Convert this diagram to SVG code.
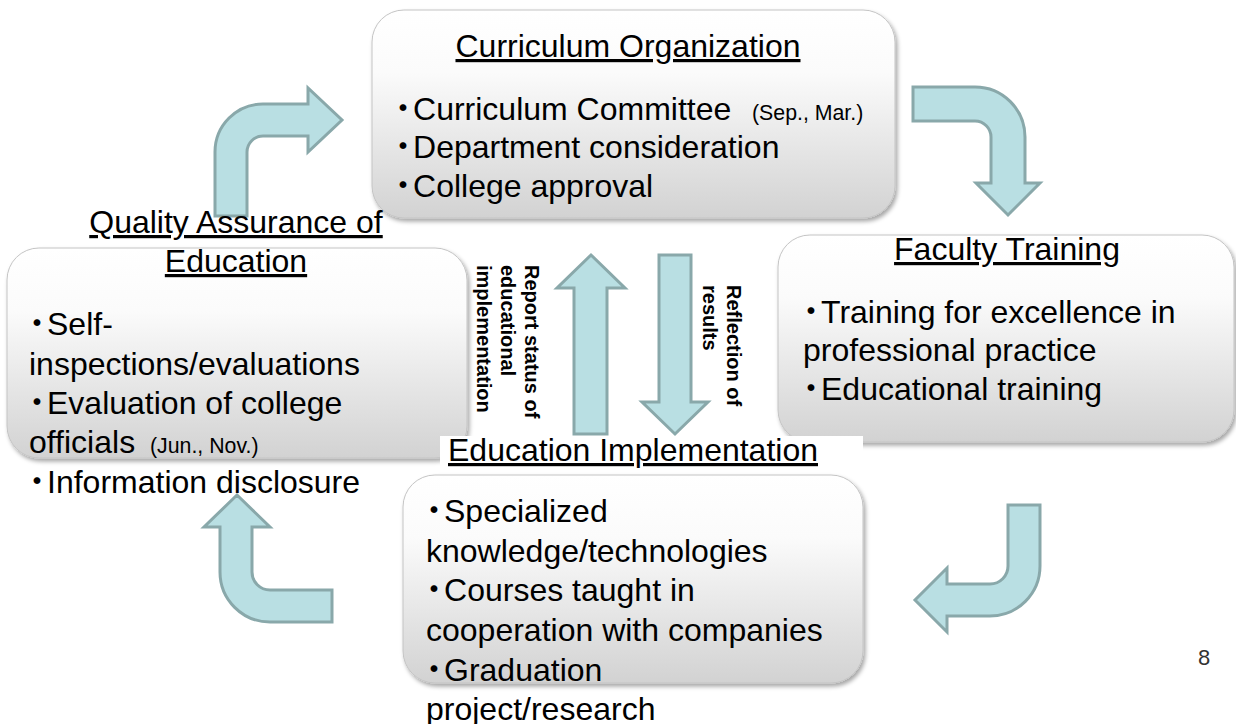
<svg xmlns="http://www.w3.org/2000/svg" width="1236" height="724" viewBox="0 0 1236 724">
<style>
text{font-family:"Liberation Sans",Arial,"Noto Sans CJK JP",sans-serif;fill:#000}
.t{font-size:32px}
.ttl{font-size:32px;text-decoration:underline;text-anchor:middle}
.b{font-family:"Noto Sans CJK JP","Liberation Sans",sans-serif;font-size:32px}
.s{font-size:21.3px}
.v{font-size:20px;font-weight:bold}
.box{fill:url(#g);stroke:#c4c4c4;stroke-width:1;filter:url(#sh)}
.arr{fill:#b9dfe3;stroke:#89a8aa;stroke-width:3;stroke-linejoin:miter}
</style>
<defs>
<linearGradient id="g" x1="0" y1="0" x2="0" y2="1">
<stop offset="0" stop-color="#ffffff"/>
<stop offset="0.3" stop-color="#fbfbfb"/>
<stop offset="1" stop-color="#d2d2d2"/>
</linearGradient>
<filter id="sh" x="-5%" y="-5%" width="115%" height="120%">
<feDropShadow dx="2" dy="3" stdDeviation="2" flood-color="#000" flood-opacity="0.35"/>
</filter>
</defs>
<rect width="1236" height="724" fill="#ffffff"/>

<g id="connectors">
<path class="arr" d="M215,216 L215,152 A48,48 0 0 1 263,104 L308,104 L308,88 L342,120 L308,152 L308,136 L263,136 A16,16 0 0 0 247,152 L247,216 Z"/>
<path class="arr" d="M913,87 L975,87 A50,50 0 0 1 1025,137 L1025,183 L1040,183 L1008,215 L976,183 L991,183 L991,137 A16,16 0 0 0 975,121 L913,121 Z"/>
<path class="arr" d="M1008,505 L1040,505 L1040,566 A50,50 0 0 1 990,616 L947,616 L947,632 L915,600 L947,568 L947,584 L990,584 A18,18 0 0 0 1008,566 Z"/>
<path class="arr" d="M237,495 L270,527 L252,527 L252,572 A18,18 0 0 0 270,590 L332,590 L332,622 L270,622 A50,50 0 0 1 220,572 L220,527 L204,527 Z"/>
<path class="arr" d="M591,255 L625,288 L607,288 L607,434 L574,434 L574,288 L557,288 Z"/>
<path class="arr" d="M659,255 L691,255 L691,402 L708,402 L675,434 L642,402 L659,402 Z"/>
<text class="v" transform="translate(525 265) rotate(90)"><tspan x="0" y="0">Report status of</tspan><tspan x="0" y="24">educational</tspan><tspan x="0" y="48">implementation</tspan></text>
<text class="v" transform="translate(727 285) rotate(90)"><tspan x="0" y="0">Reflection of</tspan><tspan x="0" y="24">results</tspan></text>
</g>

<g id="curriculum">
<rect class="box" x="372" y="10" width="523" height="208" rx="32"/>
<text class="ttl" x="628" y="57">Curriculum Organization</text>
<text class="t" x="387" y="120"><tspan class="b">・</tspan><tspan dx="-6">Curriculum Committee</tspan><tspan class="s" x="752">(Sep., Mar.)</tspan></text>
<text class="t" x="387" y="158"><tspan class="b">・</tspan><tspan dx="-6">Department consideration</tspan></text>
<text class="t" x="387" y="197"><tspan class="b">・</tspan><tspan dx="-6">College approval</tspan></text>
</g>

<g id="faculty">
<rect class="box" x="778" y="235" width="456" height="207" rx="32"/>
<text class="ttl" x="1007" y="260">Faculty Training</text>
<text class="t" x="795" y="323"><tspan class="b">・</tspan><tspan dx="-6">Training for excellence in</tspan></text>
<text class="t" x="803" y="361">professional practice</text>
<text class="t" x="795" y="400"><tspan class="b">・</tspan><tspan dx="-6">Educational training</tspan></text>
</g>

<g id="quality">
<rect class="box" x="7" y="248" width="460" height="210" rx="32"/>
<text class="ttl" x="236" y="233">Quality Assurance of</text>
<text class="ttl" x="236" y="272">Education</text>
<text class="t" x="21" y="335"><tspan class="b">・</tspan><tspan dx="-6">Self-</tspan></text>
<text class="t" x="29" y="375">inspections/evaluations</text>
<text class="t" x="21" y="414"><tspan class="b">・</tspan><tspan dx="-6">Evaluation of college</tspan></text>
<text class="t" x="29" y="453">officials<tspan class="s" x="150">(Jun., Nov.)</tspan></text>
<text class="t" x="21" y="493"><tspan class="b">・</tspan><tspan dx="-6">Information disclosure</tspan></text>
</g>

<g id="implementation">
<rect x="440" y="436" width="423" height="36" fill="#ffffff"/>
<text class="ttl" x="633" y="461">Education Implementation</text>
<rect class="box" x="403" y="475" width="460" height="208" rx="32"/>
<text class="t" x="418" y="522"><tspan class="b">・</tspan><tspan dx="-6">Specialized</tspan></text>
<text class="t" x="426" y="562">knowledge/technologies</text>
<text class="t" x="418" y="601"><tspan class="b">・</tspan><tspan dx="-6">Courses taught in</tspan></text>
<text class="t" x="426" y="641">cooperation with companies</text>
<text class="t" x="418" y="681"><tspan class="b">・</tspan><tspan dx="-6">Graduation</tspan></text>
<text class="t" x="426" y="720">project/research</text>
</g>

<g id="page">
<text x="1198" y="665" style="font-size:22px;fill:#333">8</text>
</g>
</svg>
